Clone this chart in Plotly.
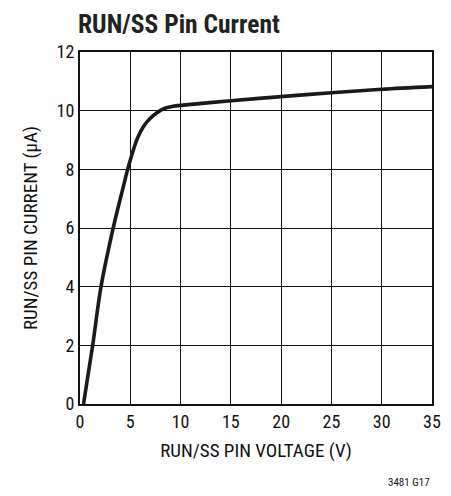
"""RUN/SS pin current vs pin voltage, datasheet-style."""

import plotly.graph_objects as go

FONT = "Liberation Sans Narrow, Roboto Condensed, DejaVu Sans Condensed, Arial Narrow, sans-serif"

voltage = [0.35, 1.26, 2.09, 3.3, 4.3, 4.74, 5.25, 5.7, 6.3, 6.96, 7.62, 8.28, 9.27, 10,
           15, 20, 25, 30, 35]
current = [0, 2, 4, 6, 7.4, 8, 8.6, 9.05, 9.45, 9.73, 9.92, 10.06, 10.15, 10.18,
           10.34, 10.48, 10.61, 10.73, 10.82]

x_ticks = [0, 5, 10, 15, 20, 25, 30, 35]
y_ticks = [0, 2, 4, 6, 8, 10, 12]

# the page body adds an 8px margin, so the figure is sized to fit the window
W, H = 443, 488

fig = go.Figure()
fig.add_trace(
    go.Scatter(
        x=voltage,
        y=current,
        mode="lines",
        line={"color": "#1a1a1a", "width": 3.6, "shape": "spline", "smoothing": 0.9},
        showlegend=False,
    )
)

axis_common = {
    "showgrid": True,
    "gridcolor": "#111111",
    "gridwidth": 1,
    "zeroline": False,
    "showline": True,
    "linecolor": "#111111",
    "linewidth": 2,
    "mirror": True,
    "ticks": "",
    "automargin": False,
    "tickfont": {"family": FONT, "size": 18, "color": "#111111"},
    "title_font": {"family": FONT, "size": 19, "color": "#111111"},
}

fig.update_xaxes(
    range=[0, 35],
    tickvals=x_ticks,
    title_text="RUN/SS PIN VOLTAGE (V)",
    title_standoff=13,
    **axis_common,
)
fig.update_yaxes(
    range=[0, 12],
    tickvals=y_ticks,
    title_text="RUN/SS PIN CURRENT (µA)",
    title_standoff=14,
    **axis_common,
)

fig.update_layout(
    width=W,
    height=H,
    margin={"l": 72, "r": 19, "t": 44, "b": 92},
    plot_bgcolor="white",
    paper_bgcolor="white",
    title={
        "text": "<b>RUN/SS Pin Current</b>",
        "xref": "container",
        "yref": "container",
        "x": 70 / W,
        "xanchor": "left",
        "y": 1 - 7 / H,
        "yanchor": "top",
        "font": {"family": FONT, "size": 25.5, "color": "#222222"},
    },
    annotations=[
        {
            "text": "3481 G17",
            "xref": "paper",
            "yref": "paper",
            "x": 1,
            "xanchor": "right",
            "y": -0.2,
            "yanchor": "top",
            "showarrow": False,
            "font": {"family": FONT, "size": 11, "color": "#111111"},
        }
    ],
)

fig.write_html("out.html")
